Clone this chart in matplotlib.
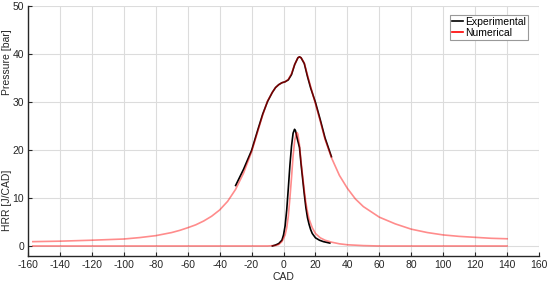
import numpy as np
import matplotlib.pyplot as plt
from matplotlib.lines import Line2D

plt.rcParams['font.family'] = ['Liberation Sans', 'DejaVu Sans']
plt.rcParams['axes.unicode_minus'] = False

# pressure, numerical
cad_p_num = [-157, -140, -120, -100, -90, -80, -70, -65, -60, -55, -50, -45, -40, -35, -30,
             -25, -20, -16, -13, -10, -7, -5, -3, -1, 1, 3, 5, 7, 9, 10, 11, 13, 15, 17,
             20, 23, 26, 30, 35, 40, 45, 50, 60, 70, 80, 90, 100, 110, 120, 130, 140]
p_num = [0.9, 1.0, 1.2, 1.45, 1.75, 2.15, 2.8, 3.25, 3.8, 4.4, 5.2, 6.2, 7.5, 9.3, 11.8,
         15.2, 19.6, 24.0, 27.3, 30.2, 32.0, 33.0, 33.6, 34.0, 34.2, 34.7, 35.9, 37.8, 39.2, 39.4, 39.2,
         38.1, 35.6, 33.2, 29.6, 26.0, 22.2, 18.4, 14.7, 12.0, 9.8, 8.2, 6.0, 4.6, 3.5, 2.8,
         2.3, 2.0, 1.8, 1.6, 1.5]

# pressure, experimental
cad_p_exp = [-30, -25, -20, -16, -13, -10, -7, -5, -3, -1, 1, 3, 5, 7, 9, 10, 11, 13, 15, 17,
             20, 23, 26, 30]
p_exp = [12.6, 16.0, 19.9, 24.3, 27.5, 30.1, 32.0, 33.0, 33.6, 34.0, 34.2, 34.6, 35.7, 37.8, 39.2,
         39.4, 39.2, 38.0, 35.3, 32.9, 29.9, 26.3, 22.5, 18.6]

# heat release rate, numerical
cad_h_num = [-157, -100, -50, -10, -5, -3, -1, 1, 2, 3, 4, 5, 6, 7, 8, 8.5, 9, 10, 11,
             12, 13, 14, 15, 16, 18, 20, 23, 26, 30, 35, 40, 50, 60, 100, 140]
h_num = [0.0, 0.0, 0.0, 0.0, 0.1, 0.3, 0.9, 2.3, 3.8, 6.2, 10.0, 14.2, 18.8, 22.0, 23.5, 23.6,
         23.3, 21.0, 17.5, 14.5, 11.6, 9.0, 7.1, 5.6, 3.8, 2.6, 1.7, 1.2, 0.8, 0.45, 0.25, 0.08,
         0.0, 0.0, 0.0]

# heat release rate, experimental
cad_h_exp = [-7, -5, -3, -1, 0, 1, 2, 3, 4, 5, 6, 6.9, 7.5, 8.5, 10, 11, 12, 13, 14, 15,
             16, 17, 18, 20, 22.5, 25, 29]
h_exp = [0.0, 0.2, 0.5, 1.2, 2.3, 4.2, 7.5, 12.0, 16.8, 20.8, 23.5, 24.3, 24.0, 22.5, 20.5,
         17.0, 13.9, 10.8, 8.0, 5.9, 4.5, 3.4, 2.6, 1.7, 1.2, 0.9, 0.6]

fig = plt.figure(figsize=(5.5, 2.82), dpi=100)
ax = fig.add_axes([0.051, 0.092, 0.929, 0.887])

ax.plot(cad_p_exp, p_exp, color='black', lw=1.2)
ax.plot(cad_h_exp, h_exp, color='black', lw=1.2)
ax.plot(cad_p_num, p_num, color='red', alpha=0.45, lw=1.2)
ax.plot(cad_h_num, h_num, color='red', alpha=0.45, lw=1.2)

ax.set_xlim(-160, 160)
ax.set_ylim(-2.1, 50)
ax.set_xticks(np.arange(-160, 161, 20))
ax.set_yticks(np.arange(0, 51, 10))
ax.grid(True, color='#dcdcdc', lw=0.8)
ax.set_axisbelow(True)
for s in ['top', 'right']:
    ax.spines[s].set_visible(False)
for s in ['left', 'bottom']:
    ax.spines[s].set_color('#262626')
    ax.spines[s].set_linewidth(1.0)
ax.tick_params(direction='in', length=3, labelsize=7.5, colors='#262626', pad=3)
ax.set_xlabel('CAD', fontsize=7.5, color='#262626', labelpad=1)

fig.text(0.012, 0.78, 'Pressure [bar]', rotation=90, fontsize=7.5, color='#262626',
         ha='center', va='center')
fig.text(0.012, 0.29, 'HRR [J/CAD]', rotation=90, fontsize=7.5, color='#262626',
         ha='center', va='center')

handles = [Line2D([], [], color='black', lw=1.2), Line2D([], [], color='red', lw=1.2)]
leg = ax.legend(handles, ['Experimental', 'Numerical'], loc='upper right', fontsize=7.5,
                handlelength=1.0, handletextpad=0.2, borderpad=0.2, labelspacing=0.1,
                fancybox=False, framealpha=1, edgecolor='#999999',
                bbox_to_anchor=(0.988, 0.985))
leg.get_frame().set_linewidth(0.8)

plt.savefig('out.png', dpi=100)
